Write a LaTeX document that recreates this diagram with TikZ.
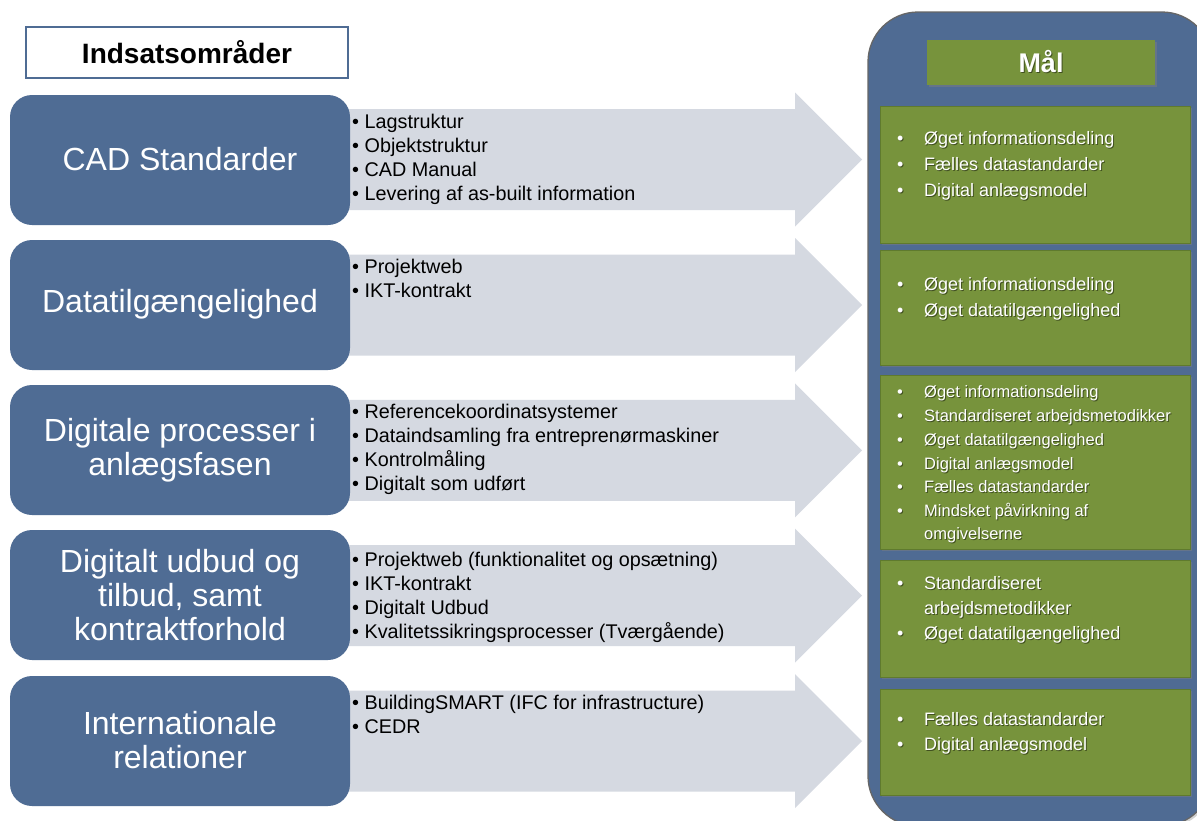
\documentclass[tikz,border=0pt]{standalone}
\usepackage{fontspec}
\setmainfont{Liberation Sans}
\usetikzlibrary{shadows}
\definecolor{boxblue}{HTML}{4F6C94}
\definecolor{arrgray}{HTML}{D5D9E1}
\definecolor{goalgreen}{HTML}{77933C}
\definecolor{greenedge}{HTML}{5F7A2E}
\definecolor{panelblue}{HTML}{4F6B93}
\newcommand{\gfont}[1]{\fontsize{#1}{#1}\selectfont}
\newcommand{\gbul}{\makebox[27pt][l]{•}}
% name, x, y(baseline), size, text
\newcommand{\gline}[5]{%
  \node[gshadow,font=\gfont{#4}] (#1-s) at (#2+1,#3+1) {#5};
  \node[gtext,font=\gfont{#4}] (#1) at (#2,#3) {#5};}
\begin{document}
\begin{tikzpicture}[x=1pt,y=-1pt,
  leftbox/.style={fill=boxblue,rounded corners=22pt},
  lefttext/.style={text=white,font=\fontsize{32}{34}\selectfont,align=center,inner sep=0pt},
  arrowfill/.style={fill=arrgray},
  arrtext/.style={anchor=base west,inner sep=0pt,font=\fontsize{19.8}{24}\selectfont,text=black},
  goalbox/.style={fill=goalgreen,draw=greenedge,line width=0.8pt,
     drop shadow={shadow xshift=2pt,shadow yshift=-2pt,opacity=0.45}},
  gtext/.style={anchor=base west,inner sep=0pt,text=white},
  gshadow/.style={anchor=base west,inner sep=0pt,text=black,opacity=0.45},
]
\useasboundingbox (0,0) rectangle (1197,820);
\fill[white] (0,0) rectangle (1197,820);

% header
\node[draw=boxblue,line width=1.2pt,fill=white,minimum width=322pt,minimum height=51pt,inner sep=0pt,
  font=\bfseries\fontsize{28}{28}\selectfont] (hdr) at (187,52.5) {Indsatsområder};

% right panel
\draw[fill=panelblue,draw=black!60,line width=1.3pt,rounded corners=50pt,
  drop shadow={shadow xshift=2pt,shadow yshift=-2pt,opacity=0.35}]
  (868,12) rectangle (1212,826);

% arrows
\foreach \c in {159.5,305,450.3,595.7,741}{
  \path[arrowfill] (340,\c-50.5) -- (795,\c-50.5) -- (795,\c-67) -- (862,\c)
     -- (795,\c+67) -- (795,\c+50.5) -- (340,\c+50.5) -- cycle;
}

% left boxes
\path[leftbox] (10,95) rectangle (350,225);
\path[leftbox] (10,240) rectangle (350,370);
\path[leftbox] (10,385) rectangle (350,515);
\path[leftbox] (10,530) rectangle (350,660);
\path[leftbox] (10,676) rectangle (350,806);
\node[lefttext] (l1) at (180,159) {CAD Standarder};
\node[lefttext] (l2) at (180,304) {Datatilgængelighed};
\node[lefttext] (l3) at (180,450) {Digitale processer i\\anlægsfasen};
\node[lefttext] (l4) at (180,595) {Digitalt udbud og\\tilbud, samt\\kontraktforhold};
\node[lefttext] (l5) at (180,740) {Internationale\\relationer};

% arrow texts
\foreach \t [count=\i] in {Lagstruktur,Objektstruktur,CAD Manual,Levering af as-built information}
  \node[arrtext] (a1-\i) at (352,128.5+24*\i-24) {•\ \t};
\foreach \t [count=\i] in {Projektweb,IKT-kontrakt}
  \node[arrtext] (a2-\i) at (352,273+24*\i-24) {•\ \t};
\foreach \t [count=\i] in {Referencekoordinatsystemer,Dataindsamling fra entreprenørmaskiner,Kontrolmåling,Digitalt som udført}
  \node[arrtext] (a3-\i) at (352,418+24*\i-24) {•\ \t};
\foreach \t [count=\i] in {Projektweb (funktionalitet og opsætning),IKT-kontrakt,Digitalt Udbud,Kvalitetssikringsprocesser (Tværgående)}
  \node[arrtext] (a4-\i) at (352,566+24.3*\i-24.3) {•\ \t};
\foreach \t [count=\i] in {BuildingSMART (IFC for infrastructure),CEDR}
  \node[arrtext] (a5-\i) at (352,709+24*\i-24) {•\ \t};

% Mål
\node[fill=goalgreen,minimum width=228pt,minimum height=45pt,inner sep=0pt,
  drop shadow={shadow xshift=2pt,shadow yshift=-2pt,opacity=0.45}] (malbox) at (1041,62.5) {};
\node[text=black,opacity=0.45,font=\bfseries\fontsize{27}{27}\selectfont,inner sep=0pt] (mal-s) at (1042,63) {Mål};
\node[text=white,font=\bfseries\fontsize{27}{27}\selectfont,inner sep=0pt] (mal) at (1041,62) {Mål};

% goal boxes
\path[goalbox] (880,106) rectangle (1190,243);
\path[goalbox] (880,250) rectangle (1190,365);
\path[goalbox] (880,375) rectangle (1190,549);
\path[goalbox] (880,560) rectangle (1190,677);
\path[goalbox] (880,689) rectangle (1190,795);

\gline{g1a}{897}{144.5}{18}{\gbul Øget informationsdeling}
\gline{g1b}{897}{170.5}{18}{\gbul Fælles datastandarder}
\gline{g1c}{897}{196}{18}{\gbul Digital anlægsmodel}

\gline{g2a}{897}{290.5}{18}{\gbul Øget informationsdeling}
\gline{g2b}{897}{316.5}{18}{\gbul Øget datatilgængelighed}

\gline{g3a}{897}{397}{16.5}{\gbul Øget informationsdeling}
\gline{g3b}{897}{421}{16.5}{\gbul Standardiseret arbejdsmetodikker}
\gline{g3c}{897}{445}{16.5}{\gbul Øget datatilgængelighed}
\gline{g3d}{897}{469}{16.5}{\gbul Digital anlægsmodel}
\gline{g3e}{897}{492}{16.5}{\gbul Fælles datastandarder}
\gline{g3f}{897}{516}{16.5}{\gbul Mindsket påvirkning af}
\gline{g3g}{924}{539}{16.5}{omgivelserne}

\gline{g4a}{897}{589.5}{18}{\gbul Standardiseret}
\gline{g4b}{924}{614.5}{18}{arbejdsmetodikker}
\gline{g4c}{897}{639.5}{18}{\gbul Øget datatilgængelighed}

\gline{g5a}{897}{725.5}{18}{\gbul Fælles datastandarder}
\gline{g5b}{897}{750.5}{18}{\gbul Digital anlægsmodel}
\end{tikzpicture}
\end{document}
